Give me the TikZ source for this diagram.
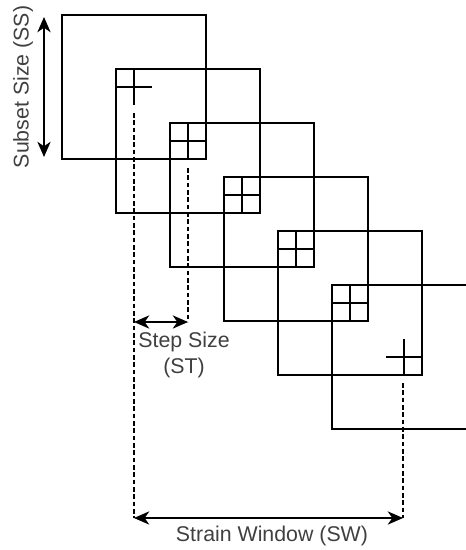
\documentclass[tikz,border=0pt]{standalone}
\usepackage{fontspec}
\setmainfont{Liberation Sans}
\usetikzlibrary{arrows.meta}
\newcommand{\crosshair}[1]{%
  \draw[frame] (#1) ++(-18,0) -- ++(36,0);
  \draw[frame] (#1) ++(0,-18) -- ++(0,36);}

\begin{document}
\begin{tikzpicture}[x=0.75pt, y=-0.75pt,
    font=\fontsize{16}{19.5}\selectfont,
    >={Stealth[length=11.5pt,width=10pt,inset=3.5pt]},
    frame/.style={line width=0.9pt},
    guide/.style={line width=0.8pt, dash pattern=on 3.5pt off 2pt},
    dim/.style={line width=0.9pt, <->},
    lab/.style={text=black!75, inner sep=0pt, align=center}]
  \useasboundingbox (0,0) rectangle (466,550);
  \clip (0,0) rectangle (466,550);

  % sliding subsets
  \foreach \i in {0,...,5} {
    \node[draw, frame, minimum size=108pt, inner sep=0pt] (sq\i)
      at ({134+54*\i},{87+54*\i}) {};
    \crosshair{sq\i.center}
  }

  % subset size
  \coordinate (ss top) at (44,17);
  \coordinate (ss bot) at (44,157);
  \draw[dim] (ss top) -- (ss bot);
  \node[lab, rotate=90] (ss lab) at (23,87) {Subset Size (SS)};

  % step size
  \coordinate (g0 top) at (134,113);
  \coordinate (g1 top) at (188,168);
  \coordinate (g1 bot) at (188,322);
  \coordinate (st left) at (134,322);
  \draw[guide] (g1 top) -- (g1 bot);
  \draw[dim] (st left) -- (g1 bot);
  \node[lab] (st lab) at (184,355) {Step Size\\(ST)};

  % strain window
  \coordinate (g0 bot) at (134,518);
  \coordinate (g5 top) at (403,383);
  \coordinate (g5 bot) at (403,518);
  \draw[guide] (g0 top) -- (g0 bot);
  \draw[guide] (g5 top) -- (g5 bot);
  \draw[dim] (g0 bot) -- (g5 bot);
  \node[lab] (sw lab) at (272,536) {Strain Window (SW)};
\end{tikzpicture}
\end{document}
